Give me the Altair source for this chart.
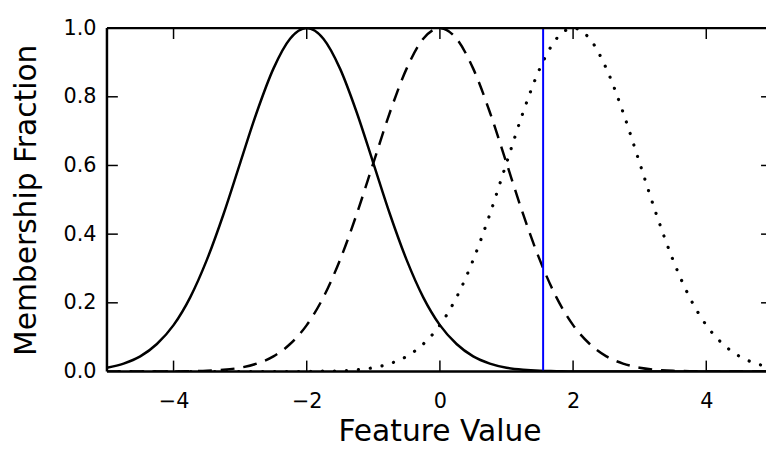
import altair as alt
import pandas as pd

# ---- data ----
x_vals = [-5.0, -4.75, -4.5, -4.25, -4.0, -3.75, -3.5, -3.25, -3.0, -2.75,
          -2.5, -2.25, -2.0, -1.75, -1.5, -1.25, -1.0, -0.75, -0.5, -0.25,
          0.0, 0.25, 0.5, 0.75, 1.0, 1.25, 1.5, 1.75, 2.0, 2.25,
          2.5, 2.75, 3.0, 3.25, 3.5, 3.75, 4.0, 4.25, 4.5, 4.75, 5.0]

low_vals = [0.011, 0.023, 0.044, 0.080, 0.135, 0.216, 0.325, 0.458, 0.607, 0.755,
            0.882, 0.969, 1.000, 0.969, 0.882, 0.755, 0.607, 0.458, 0.325, 0.216,
            0.135, 0.080, 0.044, 0.023, 0.011, 0.005, 0.002, 0.001, 0.0, 0.0,
            0.0, 0.0, 0.0, 0.0, 0.0, 0.0, 0.0, 0.0, 0.0, 0.0, 0.0]

mid_vals = [0.0, 0.0, 0.0, 0.0, 0.0, 0.001, 0.002, 0.005, 0.011, 0.023,
            0.044, 0.080, 0.135, 0.216, 0.325, 0.458, 0.607, 0.755, 0.882, 0.969,
            1.000, 0.969, 0.882, 0.755, 0.607, 0.458, 0.325, 0.216, 0.135, 0.080,
            0.044, 0.023, 0.011, 0.005, 0.002, 0.001, 0.0, 0.0, 0.0, 0.0, 0.0]

high_vals = [0.0, 0.0, 0.0, 0.0, 0.0, 0.0, 0.0, 0.0, 0.0, 0.0,
             0.0, 0.0, 0.0, 0.001, 0.002, 0.005, 0.011, 0.023, 0.044, 0.080,
             0.135, 0.216, 0.325, 0.458, 0.607, 0.755, 0.882, 0.969, 1.000, 0.969,
             0.882, 0.755, 0.607, 0.458, 0.325, 0.216, 0.135, 0.080, 0.044, 0.023, 0.011]

marker_x = [1.55]

x_ticks = [-4, -2, 0, 2, 4]
y_ticks = [0.0, 0.2, 0.4, 0.6, 0.8, 1.0]
inner_y_ticks = [0.2, 0.4, 0.6, 0.8]

X_DOMAIN = [-5, 4.897]
W, H = 666, 347
FONT = "DejaVu Sans"

curves = pd.DataFrame({"x": x_vals, "low": low_vals, "mid": mid_vals, "high": high_vals})

xscale = alt.Scale(domain=X_DOMAIN, nice=False, zero=False)
yscale = alt.Scale(domain=[0, 1], nice=False, zero=False)

xaxis = alt.Axis(values=x_ticks, format="d", ticks=False, domain=False, grid=False,
                 labelFont=FONT, labelFontSize=21, labelColor="black", labelPadding=19,
                 title="Feature Value", titleFont=FONT, titleFontSize=30,
                 titleFontWeight="normal", titleColor="black",
                 titleX=336, titleY=70, titleBaseline="alphabetic", titleAnchor="middle",
                 titleAlign="center")
yaxis = alt.Axis(values=y_ticks, format=".1f", ticks=False, domain=False, grid=False,
                 labelFont=FONT, labelFontSize=21, labelColor="black", labelPadding=11,
                 labelOverlap=False,
                 title="Membership Fraction", titleFont=FONT, titleFontSize=30,
                 titleFontWeight="normal", titleColor="black", titleAngle=270,
                 titleX=-72, titleY=173.5, titleBaseline="alphabetic", titleAlign="center")

base = alt.Chart(curves)

low = base.mark_line(color="black", strokeWidth=2.5, clip=True, interpolate="monotone").encode(
    x=alt.X("x:Q", scale=xscale, axis=xaxis),
    y=alt.Y("low:Q", scale=yscale, axis=yaxis),
)
mid = base.mark_line(color="black", strokeWidth=2.5, clip=True, interpolate="monotone",
                     strokeDash=[14, 9]).encode(
    x=alt.X("x:Q", scale=xscale),
    y=alt.Y("mid:Q", scale=yscale),
)
high = base.mark_line(color="black", strokeWidth=3.2, clip=True, interpolate="monotone",
                      strokeDash=[0.1, 12], strokeCap="round").encode(
    x=alt.X("x:Q", scale=xscale),
    y=alt.Y("high:Q", scale=yscale),
)

marker = alt.Chart(pd.DataFrame({"x": marker_x})).mark_rule(color="#0000ff", strokeWidth=2).encode(
    x=alt.X("x:Q", scale=xscale),
    y=alt.datum(0, scale=yscale),
    y2=alt.datum(1),
)

# spines (left, bottom, top); the right one lies outside the picture
spine_df = pd.DataFrame({"k": [0]})
spine_left = alt.Chart(spine_df).mark_rule(color="black", strokeWidth=2.5).encode(
    x=alt.value(0), y=alt.value(0), y2=alt.value(H))
spine_bottom = alt.Chart(spine_df).mark_rule(color="black", strokeWidth=2.5).encode(
    x=alt.value(0), x2=alt.value(W + 10), y=alt.value(H))
spine_top = alt.Chart(spine_df).mark_rule(color="black", strokeWidth=2.5).encode(
    x=alt.value(0), x2=alt.value(W + 10), y=alt.value(0))

xt = pd.DataFrame({"t": x_ticks})
yt = pd.DataFrame({"t": inner_y_ticks})
TL = 11
ticks_bottom = alt.Chart(xt).mark_rule(color="black", strokeWidth=1.5).encode(
    x=alt.X("t:Q", scale=xscale), y=alt.value(H), y2=alt.value(H - TL))
ticks_top = alt.Chart(xt).mark_rule(color="black", strokeWidth=1.5).encode(
    x=alt.X("t:Q", scale=xscale), y=alt.value(0), y2=alt.value(TL))
ticks_left = alt.Chart(yt).mark_rule(color="black", strokeWidth=1.5).encode(
    y=alt.Y("t:Q", scale=yscale), x=alt.value(0), x2=alt.value(TL))
ticks_right = alt.Chart(yt).mark_rule(color="black", strokeWidth=1.5).encode(
    y=alt.Y("t:Q", scale=yscale), x=alt.value(W - 5), x2=alt.value(W + 7))

chart = alt.layer(
    low, mid, high, marker,
    spine_left, spine_bottom, spine_top,
    ticks_bottom, ticks_top, ticks_left, ticks_right,
).properties(
    width=W, height=H,
    autosize=alt.AutoSizeParams(type="none"),
    padding={"left": 100, "top": 18, "right": 0, "bottom": 76},
    background="white",
).configure_view(stroke=None)

chart.save("out.html", embed_options={"renderer": "svg", "actions": False})
